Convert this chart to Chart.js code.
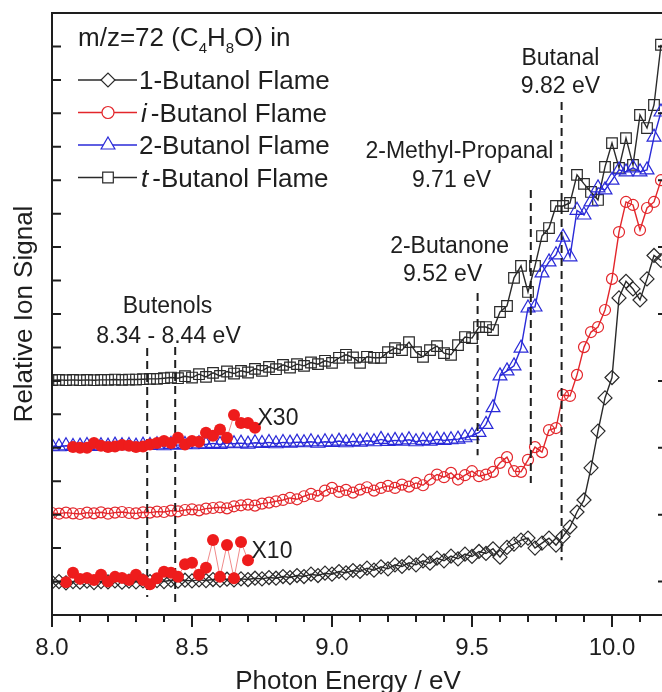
<!DOCTYPE html>
<html>
<head>
<meta charset="utf-8">
<title>m/z=72 (C4H8O) in butanol flames</title>
<script src="https://cdn.jsdelivr.net/npm/chart.js@4/dist/chart.umd.min.js"></script>
<style>
  html, body { margin: 0; padding: 0; background: #fff; overflow: hidden; }
  #wrap { width: 662px; height: 692px; overflow: hidden; }
  canvas { display: block; }
</style>
</head>
<body>
<div id="wrap"><canvas id="pie" width="680" height="692"></canvas></div>
<script>
'use strict';

// photon energy grid, eV
var energy = [
  8.000, 8.025, 8.050, 8.075, 8.100, 8.125, 8.150, 8.175, 8.200, 8.225,
  8.250, 8.275, 8.300, 8.325, 8.350, 8.375, 8.400, 8.425, 8.450, 8.475,
  8.500, 8.525, 8.550, 8.575, 8.600, 8.625, 8.650, 8.675, 8.700, 8.725,
  8.750, 8.775, 8.800, 8.825, 8.850, 8.875, 8.900, 8.925, 8.950, 8.975,
  9.000, 9.025, 9.050, 9.075, 9.100, 9.125, 9.150, 9.175, 9.200, 9.225,
  9.250, 9.275, 9.300, 9.325, 9.350, 9.375, 9.400, 9.425, 9.450, 9.475,
  9.500, 9.525, 9.550, 9.575, 9.600, 9.625, 9.650, 9.675, 9.700, 9.725,
  9.750, 9.775, 9.800, 9.825, 9.850, 9.875, 9.900, 9.925, 9.950, 9.975,
  10.000, 10.025, 10.050, 10.075, 10.100, 10.125, 10.150, 10.175
];

// relative ion signal (curves are offset from each other)
var oneButanol = [
  0.98, 1.00, 0.96, 1.00, 0.98, 1.01, 0.97, 1.00, 0.99, 1.02,
  0.98, 1.01, 0.99, 1.02, 1.00, 1.03, 1.00, 1.04, 1.01, 1.04,
  1.02, 1.05, 1.03, 1.06, 1.04, 1.07, 1.05, 1.08, 1.06, 1.10,
  1.08, 1.12, 1.10, 1.15, 1.12, 1.18, 1.15, 1.22, 1.18, 1.25,
  1.22, 1.30, 1.26, 1.33, 1.30, 1.40, 1.34, 1.44, 1.38, 1.50,
  1.45, 1.56, 1.50, 1.62, 1.55, 1.70, 1.62, 1.76, 1.68, 1.82,
  1.75, 1.90, 1.84, 1.98, 1.73, 2.02, 2.12, 2.24, 2.30, 2.00,
  2.15, 2.30, 2.09, 2.35, 2.63, 3.08, 3.44, 4.40, 5.50, 6.49,
  7.10, 9.48, 9.98, 9.75, 9.42, 10.05, 10.75, 10.60
];

var isoButanol = [
  3.05, 3.03, 3.06, 3.04, 3.02, 3.06, 3.04, 3.07, 3.03, 3.06,
  3.08, 3.05, 3.04, 3.07, 3.06, 3.09, 3.08, 3.12, 3.10, 3.14,
  3.16, 3.13, 3.18, 3.20, 3.22, 3.19, 3.25, 3.28, 3.30, 3.27,
  3.33, 3.36, 3.40, 3.44, 3.50, 3.46, 3.55, 3.62, 3.56, 3.72,
  3.80, 3.68, 3.74, 3.66, 3.75, 3.82, 3.72, 3.80, 3.86, 3.80,
  3.90, 3.84, 3.95, 3.88, 4.05, 4.20, 4.12, 4.25, 4.05, 4.18,
  4.30, 4.15, 4.20, 4.28, 4.55, 4.72, 4.30, 4.28, 4.64, 5.02,
  4.87, 5.53, 5.59, 6.58, 6.55, 7.18, 8.01, 8.46, 8.61, 9.12,
  10.05, 11.45, 12.35, 12.26, 11.51, 12.17, 12.35, 13.00
];

var twoButanol = [
  5.05, 5.03, 5.06, 5.04, 5.05, 5.07, 5.04, 5.06, 5.05, 5.08,
  5.06, 5.07, 5.05, 5.08, 5.07, 5.09, 5.06, 5.10, 5.08, 5.10,
  5.09, 5.12, 5.10, 5.13, 5.10, 5.14, 5.12, 5.14, 5.11, 5.15,
  5.13, 5.16, 5.12, 5.16, 5.14, 5.17, 5.15, 5.18, 5.14, 5.18,
  5.16, 5.20, 5.15, 5.19, 5.17, 5.21, 5.18, 5.25, 5.19, 5.22,
  5.20, 5.24, 5.18, 5.22, 5.20, 5.25, 5.22, 5.24, 5.26, 5.30,
  5.36, 5.46, 5.70, 6.20, 7.15, 7.30, 7.45, 7.98, 9.18, 9.21,
  10.23, 10.56, 10.77, 11.30, 10.71, 12.10, 11.96, 12.35, 12.77, 12.71,
  13.00, 13.31, 13.25, 13.37, 13.25, 13.31, 14.29, 15.04
];

var tertButanol = [
  7.02, 7.03, 7.02, 7.03, 7.02, 7.03, 7.02, 7.03, 7.03, 7.04,
  7.03, 7.04, 7.04, 7.05, 7.06, 7.06, 7.08, 7.10, 7.08, 7.14,
  7.10, 7.20, 7.12, 7.24, 7.15, 7.28, 7.22, 7.30, 7.25, 7.36,
  7.30, 7.42, 7.35, 7.48, 7.40, 7.50, 7.45, 7.55, 7.50, 7.60,
  7.54, 7.69, 7.78, 7.70, 7.54, 7.72, 7.69, 7.69, 7.86, 7.98,
  7.92, 8.16, 7.86, 7.72, 7.92, 8.04, 7.83, 7.78, 8.07, 8.31,
  8.28, 8.61, 8.61, 8.52, 9.06, 9.24, 10.08, 10.44, 9.66, 10.44,
  11.33, 11.57, 12.23, 12.23, 12.32, 13.16, 12.89, 12.65, 12.41, 13.40,
  14.11, 13.37, 14.26, 13.46, 14.95, 14.56, 15.25, 17.05
];

// magnified low-energy tails (x30 on 2-butanol, x10 on 1-butanol)
var x30Energy = [
  8.075, 8.100, 8.125, 8.150, 8.175, 8.200, 8.225, 8.250, 8.275, 8.300,
  8.325, 8.350, 8.375, 8.400, 8.425, 8.450, 8.475, 8.500, 8.525, 8.550,
  8.575, 8.600, 8.625, 8.650, 8.675, 8.700, 8.725
];
var x30Signal = [
  5.02, 5.00, 5.00, 5.14, 5.06, 5.02, 5.04, 5.08, 5.06, 5.02,
  5.04, 5.10, 5.14, 5.20, 5.14, 5.30, 5.10, 5.20, 5.18, 5.45,
  5.36, 5.55, 5.30, 5.98, 5.74, 5.74, 5.60
];

var x10Energy = [
  8.050, 8.075, 8.100, 8.125, 8.150, 8.175, 8.200, 8.225, 8.250, 8.275,
  8.300, 8.325, 8.350, 8.375, 8.400, 8.425, 8.450, 8.475, 8.500, 8.525,
  8.550, 8.575, 8.600, 8.625, 8.650, 8.675, 8.700
];
var x10Signal = [
  0.98, 1.26, 1.08, 1.11, 1.05, 1.20, 1.00, 1.14, 1.11, 1.05,
  1.20, 1.05, 0.92, 1.10, 1.29, 1.26, 1.14, 1.52, 1.56, 1.20,
  1.41, 2.24, 1.14, 2.09, 1.10, 2.18, 1.64
];

// ionization thresholds, eV, with the span of each dashed marker
var thresholdEnergy = [8.34, 8.44, 9.52, 9.71, 9.82];
var thresholdTop = [7.98, 8.01, 9.63, 12.71, 15.34];
var thresholdBottom = [0.54, 0.36, 4.78, 3.95, 1.64];

var seriesNames = ['1-Butanol Flame', 'i -Butanol Flame', '2-Butanol Flame', 't -Butanol Flame'];
var xTickLabels = ['8.0', '8.5', '9.0', '9.5', '10.0'];

var FONT = "'Liberation Sans', Arial, sans-serif";
var BLACK = '#1e1e1e';
var RED = '#e3262b';
var BLUE = '#2a2ad8';

function pairs(xs, ys) {
  return xs.map(function(x, i) {
    return {x: x, y: ys[i]};
  });
}

function series(name, values, color, marker, radius) {
  return {
    label: name,
    data: pairs(energy, values),
    borderColor: color,
    borderWidth: 1.4,
    pointStyle: marker,
    pointRadius: radius,
    pointBorderColor: color,
    pointBackgroundColor: 'rgba(0,0,0,0)',
    pointBorderWidth: 1.2,
    order: 2
  };
}

function magnified(name, xs, ys) {
  return {
    label: name,
    data: pairs(xs, ys),
    borderColor: '#f08a8a',
    borderWidth: 1,
    pointStyle: 'circle',
    pointRadius: 6,
    pointBorderWidth: 0,
    pointBackgroundColor: '#ee1c1c',
    order: 0
  };
}

var datasets = [
  series(seriesNames[0], oneButanol, '#2a2a2a', 'rectRot', 7),
  series(seriesNames[1], isoButanol, RED, 'circle', 5.5),
  series(seriesNames[2], twoButanol, BLUE, 'triangle', 8),
  series(seriesNames[3], tertButanol, '#2a2a2a', 'rect', 7.5),
  magnified('X30', x30Energy, x30Signal),
  magnified('X10', x10Energy, x10Signal)
];

thresholdEnergy.forEach(function(e, i) {
  datasets.push({
    label: 'threshold ' + e,
    data: [{x: e, y: thresholdTop[i]}, {x: e, y: thresholdBottom[i]}],
    borderColor: BLACK,
    borderWidth: 2,
    borderDash: [8, 5],
    pointRadius: 0,
    order: 1
  });
});

function drawMarker(ctx, style, cx, cy, r) {
  var s;
  ctx.beginPath();
  if (style === 'rectRot') {
    ctx.moveTo(cx - r, cy);
    ctx.lineTo(cx, cy - r);
    ctx.lineTo(cx + r, cy);
    ctx.lineTo(cx, cy + r);
    ctx.closePath();
  } else if (style === 'circle') {
    ctx.arc(cx, cy, r, 0, Math.PI * 2);
  } else if (style === 'triangle') {
    ctx.moveTo(cx, cy - r);
    ctx.lineTo(cx + r * 0.866, cy + r * 0.5);
    ctx.lineTo(cx - r * 0.866, cy + r * 0.5);
    ctx.closePath();
  } else {
    s = r * Math.SQRT1_2;
    ctx.rect(cx - s, cy - s, 2 * s, 2 * s);
  }
  ctx.fillStyle = '#fff';
  ctx.fill();
  ctx.stroke();
}

// writes a run of text and returns the x where the next run starts
function run(ctx, str, x, y, size, italic) {
  ctx.font = (italic ? 'italic ' : '') + size + 'px ' + FONT;
  ctx.textAlign = 'left';
  ctx.fillText(str, x, y);
  return x + ctx.measureText(str).width;
}

var frame = {
  id: 'frame',
  afterDraw: function(chart) {
    var ctx = chart.ctx;
    var a = chart.chartArea;
    var xs = chart.scales.x;
    var ys = chart.scales.y;
    var v, px, py, len, i;

    ctx.save();
    ctx.strokeStyle = BLACK;
    ctx.fillStyle = BLACK;
    ctx.lineWidth = 2;

    ctx.beginPath();
    ctx.moveTo(a.right, a.top);
    ctx.lineTo(a.left, a.top);
    ctx.lineTo(a.left, a.bottom);
    ctx.lineTo(a.right, a.bottom);
    ctx.closePath();
    ctx.stroke();

    // x ticks point outward, long ones every 0.5 eV
    ctx.beginPath();
    for (v = 80; v <= 102; v++) {
      px = xs.getPixelForValue(v / 10);
      len = v % 5 === 0 ? 12 : 7;
      ctx.moveTo(px, a.bottom);
      ctx.lineTo(px, a.bottom + len);
    }
    // y ticks point inward, the right axis has every other one
    for (v = 1; v < 18; v++) {
      py = ys.getPixelForValue(v);
      ctx.moveTo(a.left, py);
      ctx.lineTo(a.left + 9, py);
      if (v % 2 === 1) {
        ctx.moveTo(a.right, py);
        ctx.lineTo(a.right - 10, py);
      }
    }
    ctx.stroke();

    ctx.font = '24px ' + FONT;
    ctx.textAlign = 'center';
    xTickLabels.forEach(function(t) {
      ctx.fillText(t, xs.getPixelForValue(parseFloat(t)), a.bottom + 40);
    });

    ctx.font = '26px ' + FONT;
    ctx.fillText('Photon Energy / eV', 348, 689);
    ctx.save();
    ctx.translate(32, (a.top + a.bottom) / 2);
    ctx.rotate(-Math.PI / 2);
    ctx.fillText('Relative Ion Signal', 0, 0);
    ctx.restore();

    // threshold and scale-factor labels
    ctx.font = '23px ' + FONT;
    [
      ['Butanal', 9.816, 16.45],
      ['9.82 eV', 9.816, 15.61],
      ['2-Methyl-Propanal', 9.455, 13.67],
      ['9.71 eV', 9.427, 12.80],
      ['2-Butanone', 9.42, 10.83],
      ['9.52 eV', 9.395, 9.99],
      ['Butenols', 8.4125, 9.03],
      ['8.34 - 8.44 eV', 8.416, 8.13]
    ].forEach(function(t) {
      ctx.fillText(t[0], xs.getPixelForValue(t[1]), ys.getPixelForValue(t[2]));
    });
    ctx.textAlign = 'left';
    ctx.fillText('X30', xs.getPixelForValue(8.734), ys.getPixelForValue(5.68));
    ctx.fillText('X10', xs.getPixelForValue(8.7125), ys.getPixelForValue(1.70));

    // legend
    var x0 = 78;
    x0 = run(ctx, 'm/z=72 (C', x0, 46, 26);
    x0 = run(ctx, '4', x0, 53, 15);
    x0 = run(ctx, 'H', x0, 46, 26);
    x0 = run(ctx, '8', x0, 53, 15);
    run(ctx, 'O) in', x0, 46, 26);

    var radii = [7, 6, 8, 7.5];
    for (i = 0; i < 4; i++) {
      var ds = chart.data.datasets[i];
      var cy = 80 + 32.5 * i;
      ctx.strokeStyle = ds.borderColor;
      ctx.lineWidth = 1.5;
      ctx.beginPath();
      ctx.moveTo(78, cy);
      ctx.lineTo(137, cy);
      ctx.stroke();
      ctx.lineWidth = 1.2;
      drawMarker(ctx, ds.pointStyle, 108, cy, radii[i]);
      ctx.fillStyle = BLACK;
      var label = ds.label;
      if (/^[a-z] /.test(label)) {
        var nx = run(ctx, label.charAt(0), 141, cy + 9, 26, true);
        run(ctx, label.slice(2), nx + 4, cy + 9, 26);
      } else {
        run(ctx, label, 139, cy + 9, 26);
      }
    }
    ctx.restore();
  }
};

var chart = new Chart(document.getElementById('pie').getContext('2d'), {
  type: 'line',
  data: {datasets: datasets},
  options: {
    responsive: false,
    animation: false,
    devicePixelRatio: 1,
    layout: {padding: {left: 52, right: 12, top: 13, bottom: 77}},
    plugins: {
      legend: {display: false},
      tooltip: {enabled: false}
    },
    elements: {line: {tension: 0}},
    scales: {
      x: {type: 'linear', min: 8.0, max: 10.2, display: false},
      y: {type: 'linear', min: 0, max: 18, display: false}
    }
  },
  plugins: [frame]
});
</script>
</body>
</html>
